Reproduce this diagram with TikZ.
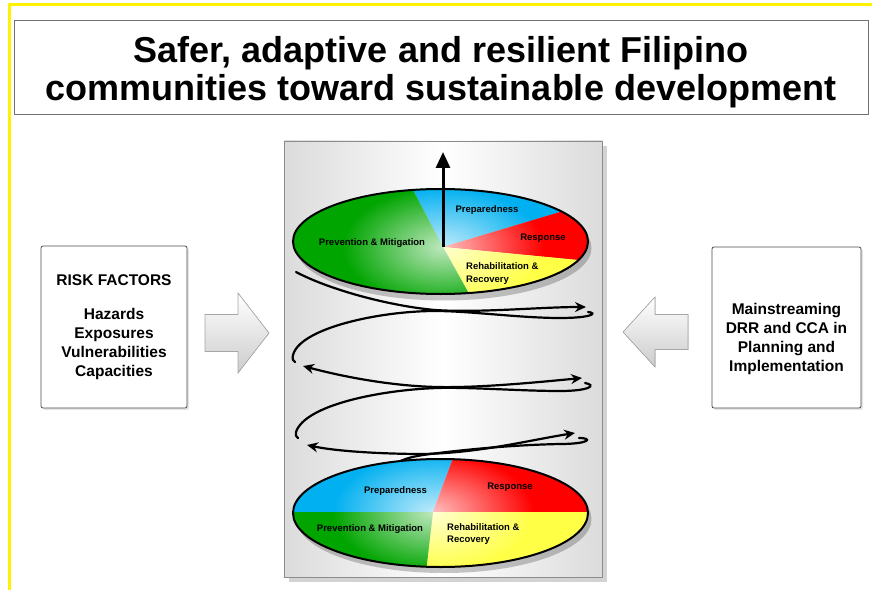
\documentclass[tikz,border=0pt]{standalone}
\usepackage{fontspec}
\setmainfont{Liberation Sans}
\usetikzlibrary{arrows.meta,shadows,fadings}
\definecolor{prepblue}{RGB}{0,176,240}
\definecolor{respred}{RGB}{255,0,0}
\definecolor{rehabyellow}{RGB}{255,255,70}
\definecolor{prevgreen}{RGB}{0,165,0}
\tikzfading[name=coreglow, inner color=transparent!25, outer color=transparent!100]

\begin{document}
\begin{tikzpicture}[x=1pt, y=1pt, >={Stealth[length=11pt,width=10pt]},
  goalbox/.style={draw=black!55, line width=0.6pt, fill=white, minimum width=854pt, minimum height=94pt},
  panel/.style={draw=black!45, line width=0.6pt, left color=black!14, right color=black!14, middle color=white, minimum width=318pt, minimum height=436pt, drop shadow={opacity=0.35, shadow xshift=5pt, shadow yshift=-5pt}},
  infobox/.style={draw=black!70, line width=0.8pt, fill=white, rounded corners=2pt, drop shadow={opacity=0.2, shadow xshift=2pt, shadow yshift=-2pt}},
  blockarrow/.style={draw=black!35, line width=0.6pt, top color=white, bottom color=black!20},
  sectorlabel/.style={font=\fontsize{9.5}{12.5}\selectfont\bfseries, inner sep=0pt},
  boxtext/.style={font=\fontsize{15.5}{19}\selectfont\bfseries, align=center, inner sep=0pt},
  loopline/.style={line width=2.2pt, line cap=round}]
\useasboundingbox (0,0) rectangle (872,590);
\draw[yellow, line width=3pt] (9.5,0) -- (9.5,585) -- (872,585);

\node[goalbox] (goal) at (441,523) {};
\node[font=\fontsize{36}{38}\selectfont\bfseries, align=center, inner sep=0pt] (goaltext) at (441,517.5) {Safer, adaptive and resilient Filipino\\communities toward sustainable development};

\node[infobox, minimum width=146pt, minimum height=162pt, boxtext] (riskbox) at (114,263) {RISK FACTORS\\[15pt]Hazards\\Exposures\\Vulnerabilities\\Capacities};
\node[infobox, minimum width=149pt, minimum height=161pt] (mainbox) at (786.5,262.5) {};
\node[boxtext] (maintext) at ([yshift=-11pt]mainbox.center) {Mainstreaming\\DRR and CCA in\\Planning and\\Implementation};

\filldraw[blockarrow] (205,275.5) -- (238,275.5) -- (238,297) -- (269,257) -- (238,217) -- (238,238.5) -- (205,238.5) -- cycle;
\filldraw[blockarrow] (688,275.5) -- (655,275.5) -- (655,293) -- (623,258) -- (655,223) -- (655,240.5) -- (688,240.5) -- cycle;

\node[panel] (cycle) at (443,231) {};

\fill[black, opacity=0.22] (444,342) ellipse (147.5 and 52.5);
\fill[black, opacity=0.22] (444,71) ellipse (147.5 and 54);

\draw[loopline, ->] (296,318) .. controls (330,300) and (390,284) .. (435,280) .. controls (480,277) and (540,283) .. (586,283);
\draw[loopline] (588,278) .. controls (598,277) and (592,272) .. (560,272) .. controls (520,272) and (470,279) .. (435,279) .. controls (380,279) and (300,262) .. (293,235) .. controls (292,231) and (293,229) .. (295,228);
\draw[loopline, <->] (303,224) .. controls (340,214) and (390,204) .. (437,203) .. controls (480,202) and (540,208) .. (582,212);
\draw[loopline] (585,207) .. controls (597,205) and (590,199) .. (560,199) .. controls (520,199) and (470,203) .. (437,202) .. controls (380,200) and (305,185) .. (296,158) .. controls (295,155) and (296,153) .. (298,152);
\draw[loopline, <->] (307,145) .. controls (340,138) and (390,136) .. (423,136) .. controls (480,137) and (530,150) .. (575,157);
\draw[loopline] (579,152) .. controls (593,152) and (590,146) .. (560,146) .. controls (510,145) and (460,140) .. (423,135) .. controls (410,133) and (400,130) .. (392,124);

\coordinate (topcore) at (443,343);
\coordinate (summit) at (443,438);
\begin{scope}
  \clip (440.5,348.5) ellipse (147.5 and 52.5);
  \begin{scope}[shift={(topcore)}]
    \fill[prepblue] (0,0) -- (16.65:400) -- (60:400) -- (100:400) -- (117.8:400) -- cycle;
    \fill[respred] (0,0) -- (-5.5:400) -- (16.65:400) -- cycle;
    \fill[rehabyellow] (0,0) -- (-60.9:400) -- (-30:400) -- (-5.5:400) -- cycle;
    \fill[prevgreen] (0,0) -- (117.8:400) -- (160:400) -- (200:400) -- (240:400) -- (280:400) -- (299.1:400) -- cycle;
  \end{scope}
  \fill[white, path fading=coreglow] (topcore) ellipse (100 and 60);
\end{scope}
\draw[line width=2pt] (440.5,348.5) ellipse (147.5 and 52.5);
\draw[line width=3pt, -{Triangle[length=16pt,width=14pt]}] (topcore) -- (summit);
\node[sectorlabel] (topprev) at (372,347) {Prevention \& Mitigation};
\node[sectorlabel] (topprep) at (487,380) {Preparedness};
\node[sectorlabel] (topresp) at (543,352) {Response};
\node[sectorlabel, anchor=west, align=left] (toprehab) at (466,316.5) {Rehabilitation \&\\Recovery};

\coordinate (botcore) at (433,78);
\begin{scope}
  \clip (440.5,77) ellipse (147.5 and 54);
  \begin{scope}[shift={(botcore)}]
    \fill[prepblue] (0,0) -- (69.6:400) -- (120:400) -- (180:400) -- cycle;
    \fill[respred] (0,0) -- (0:400) -- (40:400) -- (69.6:400) -- cycle;
    \fill[rehabyellow] (0,0) -- (263.3:400) -- (310:400) -- (360:400) -- cycle;
    \fill[prevgreen] (0,0) -- (180:400) -- (225:400) -- (263.3:400) -- cycle;
  \end{scope}
  \fill[white, path fading=coreglow] (botcore) ellipse (100 and 60);
\end{scope}
\draw[line width=2pt] (440.5,77) ellipse (147.5 and 54);
\node[sectorlabel] (botprep) at (395.5,99) {Preparedness};
\node[sectorlabel] (botresp) at (510,103) {Response};
\node[sectorlabel] (botprev) at (370,61) {Prevention \& Mitigation};
\node[sectorlabel, anchor=west, align=left] (botrehab) at (447,56) {Rehabilitation \&\\Recovery};
\end{tikzpicture}
\end{document}
